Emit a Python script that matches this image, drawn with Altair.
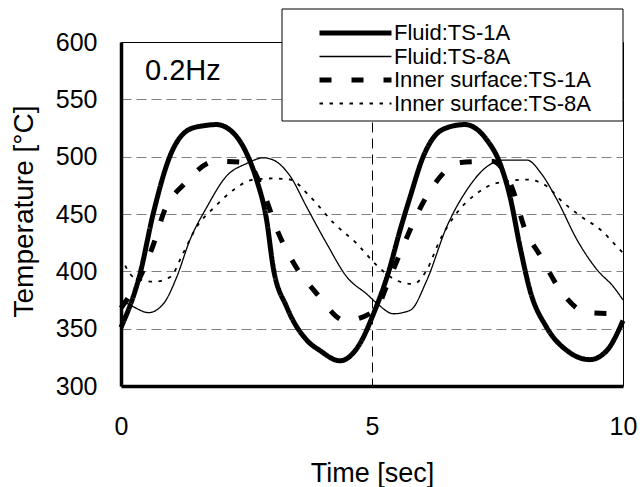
import altair as alt
import pandas as pd

series_names = ["Fluid:TS-1A", "Fluid:TS-8A", "Inner surface:TS-1A", "Inner surface:TS-8A"]

t_fluid_1a = [0, 0.38, 0.64, 0.98, 1.37, 1.65, 1.9, 2.23, 2.5, 2.7, 2.9, 3.03, 3.3, 3.7, 3.96, 4.36,
              4.76, 5.03, 5.32, 5.56, 5.76, 6.02, 6.42, 6.85, 7.28, 7.55, 7.75, 7.95, 8.15, 8.48,
              8.88, 9.34, 9.68, 10]
v_fluid_1a = [351, 398, 450, 501, 524, 527, 528, 521, 503, 480, 445, 404, 369, 340, 331, 322,
              337, 363, 398, 436, 465, 500, 524, 528, 515, 494, 465, 421, 383, 351,
              331, 323, 331, 357]

t_fluid_8a = [0, 0.25, 0.55, 0.85, 1.11, 1.37, 1.71, 2.1, 2.5, 2.84, 3.04, 3.37, 3.7, 4.1, 4.5,
              4.9, 5.1, 5.43, 5.76, 6.09, 6.49, 6.89, 7.28, 7.62, 8.09, 8.36, 8.69, 9.09, 9.49,
              9.82, 10]
v_fluid_8a = [375, 369, 364, 372, 395, 427, 456, 483, 494, 499, 497, 483, 456, 424, 395,
              380, 372, 363, 366, 392, 439, 471, 491, 497, 497, 486, 462, 427, 401,
              386, 375]

t_inner_1a = [0, 0.38, 0.65, 0.85, 1.28, 1.88, 2.5, 2.88, 3.11, 3.43, 3.91, 4.47, 5.06, 5.36,
              5.63, 5.89, 6.26, 6.76, 7.39, 7.83, 8.02, 8.36, 8.76, 9.29, 9.96]
v_inner_1a = [368, 395, 424, 451, 477, 496, 495, 464, 436, 408, 380, 357, 366, 395,
              423, 449, 477, 495, 496, 468, 440, 413, 383, 364, 363]

t_inner_8a = [0, 0.25, 0.65, 0.98, 1.24, 1.51, 1.84, 2.24, 2.64, 3.04, 3.37, 3.77, 4.24, 4.7,
              5.1, 5.49, 5.82, 6.09, 6.35, 6.69, 7.09, 7.48, 8.09, 8.49, 8.76, 9.16, 9.56,
              9.89, 10]
v_inner_8a = [413, 395, 391, 395, 416, 439, 455, 471, 480, 481, 480, 465, 442, 424,
              405, 392, 389, 401, 427, 451, 468, 477, 480, 474, 462, 448, 436,
              421, 416]

x_ticks = [0, 5, 10]
y_ticks = [300, 350, 400, 450, 500, 550, 600]
freq_label = ["0.2Hz"]

rows = []
for name, ts, vs in zip(series_names,
                        [t_fluid_1a, t_fluid_8a, t_inner_1a, t_inner_8a],
                        [v_fluid_1a, v_fluid_8a, v_inner_1a, v_inner_8a]):
    for k, (t, v) in enumerate(zip(ts, vs)):
        rows.append({"series": name, "t": t, "T": v, "order": k})
df = pd.DataFrame(rows)

FONT = "Liberation Sans"

legend = alt.Legend(
    title=None, orient="none", legendX=196, legendY=-20, padding=0,
    symbolType="stroke", symbolSize=5184, symbolStrokeColor="black",
    labelFont=FONT, labelFontSize=22, labelColor="black", labelOffset=0, labelLimit=400,
    rowPadding=1.5, symbolOffset=0, clipHeight=22,
)

x_enc = alt.X(
    "t:Q",
    scale=alt.Scale(domain=[0, 10], nice=False, zero=False),
    axis=alt.Axis(
        values=x_ticks, title="Time [sec]", format="d", labelFlush=False,
        ticks=False, labelPadding=28, labelFontSize=25, labelFont=FONT, labelColor="black",
        domainColor="black", domainWidth=3.5,
        grid=True, gridColor="black", gridDash=[10, 6], gridWidth=1,
        gridOpacity={"condition": {"test": "datum.value != 5", "value": 0}, "value": 1},
        titleFont=FONT, titleFontSize=27, titleFontWeight="normal", titleColor="black",
        titleBaseline="alphabetic", titleY=95, titleX=251,
    ),
)
y_enc = alt.Y(
    "T:Q",
    scale=alt.Scale(domain=[300, 600], nice=False, zero=False),
    axis=alt.Axis(
        values=y_ticks, title="Temperature [°C]", format="d", labelFlush=False,
        ticks=False, labelPadding=24, labelFontSize=25, labelFont=FONT, labelColor="black",
        domainColor="black", domainWidth=3.5,
        grid=True, gridColor="#808080", gridDash=[10, 5], gridWidth=1,
        gridOpacity={"condition": {"test": "datum.value == 300 || datum.value == 600", "value": 0}, "value": 1},
        titleFont=FONT, titleFontSize=28, titleFontWeight="normal", titleColor="black",
        titleAngle=270, titleBaseline="alphabetic", titleAlign="center", titleX=-89, titleY=169,
    ),
)

lines = alt.Chart(df).mark_line(interpolate="monotone", color="black", strokeCap="butt").encode(
    x=x_enc,
    y=y_enc,
    order="order:Q",
    strokeDash=alt.StrokeDash(
        "series:N", sort=series_names,
        scale=alt.Scale(type="ordinal", domain=series_names,
                        range=[[1, 0], [1, 0], [12, 20], [3.5, 6.5]]),
        legend=legend,
    ),
    strokeWidth=alt.StrokeWidth(
        "series:N", sort=series_names,
        scale=alt.Scale(type="ordinal", domain=series_names, range=[5, 1.3, 5, 1.8]),
        legend=legend,
    ),
)

box = alt.Chart(alt.Data(values=[{"k": 1}])).mark_rect(
    fill="white", stroke="black", strokeWidth=1
).encode(
    x=alt.value(161), x2=alt.value(502), y=alt.value(-33), y2=alt.value(79)
)

label = alt.Chart(pd.DataFrame({"txt": freq_label})).mark_text(
    font=FONT, fontSize=29, color="black", align="left", baseline="alphabetic"
).encode(
    x=alt.value(24), y=alt.value(38), text="txt:N"
)

chart = alt.layer(lines, box, label).properties(
    width=502, height=344,
    autosize=alt.AutoSizeParams(type="none"),
    padding={"left": 121, "top": 42, "right": 17, "bottom": 101},
    background="white",
).configure_view(
    stroke="black", strokeWidth=1
)

chart.save("out.html", embed_options={"renderer": "svg", "actions": False})
